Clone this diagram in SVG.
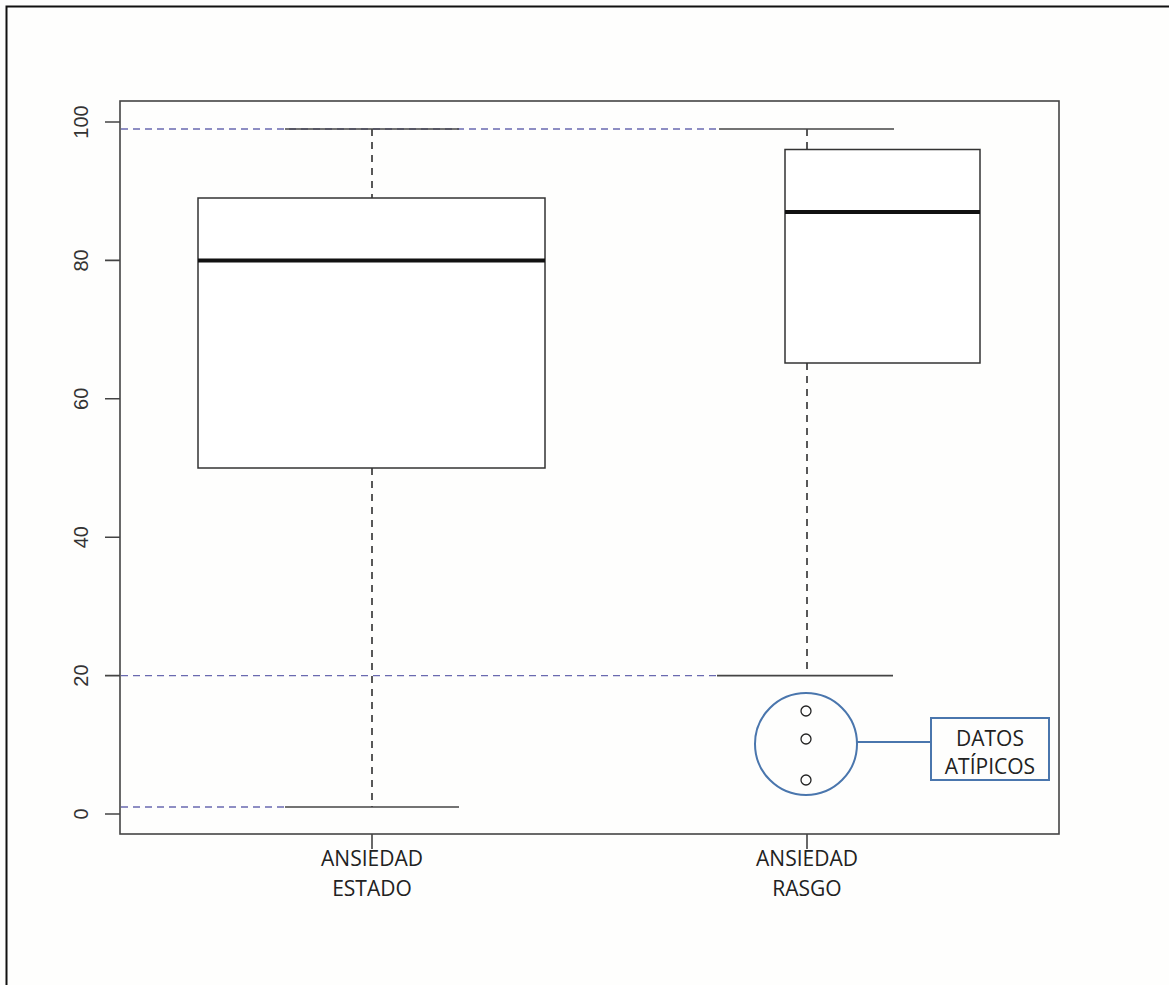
<svg xmlns="http://www.w3.org/2000/svg" width="1169" height="985" viewBox="0 0 1169 985">
<style>
.ax{stroke:#444;stroke-width:1.6;fill:none}
.box{stroke:#333;stroke-width:1.5;fill:#fff}
.med{stroke:#111;stroke-width:4}
.cap{stroke:#444;stroke-width:1.6}
.wh{stroke:#222;stroke-width:1.5;stroke-dasharray:7 6}
.ref{stroke:#6a6ab0;stroke-width:1.3;stroke-dasharray:7 5}
.blue{stroke:#4a76ad;stroke-width:2;fill:none}
.pt{stroke:#222;stroke-width:1.3;fill:none}
.yl{font-family:'Liberation Sans',Arial,sans-serif;font-size:20px;fill:#333;text-anchor:middle}
.xl{font-family:'Open Sans','Noto Sans',sans-serif;font-size:21px;fill:#222;text-anchor:middle}
</style>
<rect x="0" y="0" width="1169" height="985" fill="#fefefd"/>
<path d="M6.5 985 V6.5 H1169" stroke="#111" stroke-width="2" fill="none"/>
<g id="axes">
<rect class="ax" x="120" y="101" width="939" height="733"/>
<path class="ax" d="M105 122H120M105 260.4H120M105 398.8H120M105 537.2H120M105 675.6H120M105 814H120M372 834V849M807 834V849"/>
<text class="yl" transform="translate(88 122) rotate(-90)">100</text>
<text class="yl" transform="translate(88 260.4) rotate(-90)">80</text>
<text class="yl" transform="translate(88 398.8) rotate(-90)">60</text>
<text class="yl" transform="translate(88 537.2) rotate(-90)">40</text>
<text class="yl" transform="translate(88 675.6) rotate(-90)">20</text>
<text class="yl" transform="translate(88 814) rotate(-90)">0</text>
</g>
<g id="connectors">
<line class="ref" x1="121" y1="129" x2="719" y2="129"/>
<line class="ref" x1="121" y1="675.6" x2="717" y2="675.6"/>
<line class="ref" x1="121" y1="807" x2="285" y2="807"/>
<line class="wh" x1="372" y1="129" x2="372" y2="198"/>
<line class="wh" x1="372" y1="468" x2="372" y2="807"/>
<line class="wh" x1="807" y1="129" x2="807" y2="149"/>
<line class="wh" x1="807" y1="363" x2="807" y2="675.6"/>
<line class="blue" x1="857" y1="742" x2="931" y2="742"/>
</g>
<g id="box-estado">
<line class="cap" x1="285" y1="129" x2="459" y2="129"/>
<line class="cap" x1="285" y1="807" x2="459" y2="807"/>
<rect class="box" x="198" y="198" width="347" height="270"/>
<line class="med" x1="198" y1="260.4" x2="545" y2="260.4"/>
</g>
<g id="box-rasgo">
<line class="cap" x1="719" y1="129" x2="894" y2="129"/>
<line class="cap" x1="717" y1="675.6" x2="893" y2="675.6"/>
<rect class="box" x="785" y="149.5" width="195" height="213.5"/>
<line class="med" x1="785" y1="212" x2="980" y2="212"/>
</g>
<g id="outliers">
<circle class="blue" cx="806" cy="744" r="51"/>
<circle class="pt" cx="806" cy="711" r="5"/>
<circle class="pt" cx="806" cy="739" r="5"/>
<circle class="pt" cx="806" cy="780" r="5"/>
</g>
<g id="label-atipicos">
<rect class="blue" x="931" y="718" width="118" height="62" fill="#fff"/>
<text class="xl" x="990" y="746">DATOS</text>
<text class="xl" x="990" y="774">ATÍPICOS</text>
</g>
<g id="xlabels">
<text class="xl" x="372" y="866">ANSIEDAD</text>
<text class="xl" x="372" y="896">ESTADO</text>
<text class="xl" x="807" y="866">ANSIEDAD</text>
<text class="xl" x="807" y="896">RASGO</text>
</g>
</svg>
